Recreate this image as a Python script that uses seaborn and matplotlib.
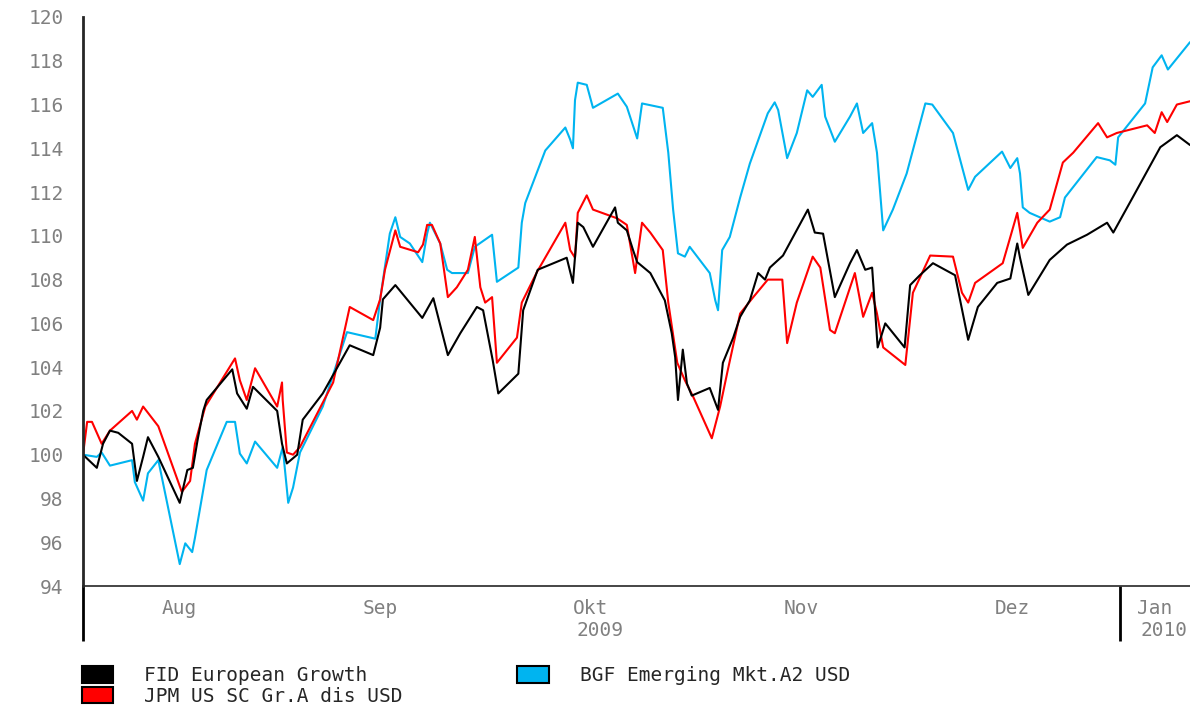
import pandas as pd
import matplotlib
matplotlib.use("Agg")
import matplotlib.pyplot as plt
from matplotlib.patches import Patch
import seaborn as sns

#%% -------------------------------------------------------------------------
# Data: fund prices indexed to 100
# x values are days since 2009-08-04
#----------------------------------------------------------------------------

START = pd.Timestamp("2009-08-04")
END_DAY = 160.2

fid_day = [0.0, 2.0, 2.9, 3.9, 5.1, 7.1, 7.8, 8.7, 9.4, 10.9, 14.0, 15.1, 15.9,
           16.6, 17.4, 17.9, 21.6, 22.3, 23.7, 24.6, 28.1, 28.8, 29.5, 31.0,
           31.8, 34.7, 38.6, 42.0, 43.0, 43.4, 45.2, 49.1, 50.7, 52.8, 54.6,
           57.0, 57.9, 59.3, 60.1, 63.0, 63.7, 65.8, 70.0, 70.9, 71.6, 72.4,
           73.8, 77.0, 77.4, 78.7, 79.6, 80.2, 82.1, 84.2, 85.2, 85.7, 86.1,
           86.8, 87.4, 88.1, 90.7, 91.9, 92.6, 94.1, 95.1, 96.5, 97.7, 98.7,
           99.4, 101.3, 104.9, 105.9, 107.1, 108.8, 111.0, 112.0, 113.2, 114.2,
           115.0, 116.1, 118.9, 119.7, 121.1, 123.0, 126.2, 128.1, 129.5,
           132.3, 134.2, 135.2, 135.6, 136.8, 139.9, 142.4, 145.3, 148.2,
           149.1, 151.9, 155.9, 158.3, 160.2]
fid_val = [100.0, 99.4, 100.5, 101.1, 101.0, 100.5, 98.8, 99.9, 100.8, 99.9,
           97.8, 99.3, 99.4, 100.7, 102.0, 102.5, 103.9, 102.8, 102.1, 103.1,
           102.0, 100.5, 99.6, 100.0, 101.6, 102.8, 105.0, 104.55, 105.8,
           107.1, 107.75, 106.25, 107.15, 104.55, 105.55, 106.75, 106.6, 104.3,
           102.8, 103.7, 106.6, 108.45, 109.0, 107.85, 110.6, 110.4, 109.5,
           111.3, 110.6, 110.25, 109.35, 108.8, 108.3, 107.05, 105.55, 104.45,
           102.5, 104.8, 103.25, 102.7, 103.05, 102.05, 104.2, 105.35, 106.3,
           107.05, 108.3, 108.0, 108.55, 109.1, 111.2, 110.15, 110.1, 107.2,
           108.75, 109.35, 108.45, 108.55, 104.9, 106.0, 104.9, 107.75, 108.2,
           108.75, 108.2, 105.25, 106.75, 107.85, 108.05, 109.65, 109.0, 107.3,
           108.9, 109.6, 110.05, 110.6, 110.15, 111.75, 114.05, 114.6, 114.15]

jpm_day = [0.0, 0.6, 1.3, 2.7, 3.9, 7.1, 7.8, 8.7, 10.9, 14.3, 15.5, 16.2, 16.9,
           17.7, 22.0, 22.7, 23.7, 24.9, 28.1, 28.8, 28.9, 29.5, 30.4, 31.4,
           36.2, 38.6, 42.0, 43.0, 43.7, 45.2, 45.9, 48.5, 49.2, 49.8, 50.5,
           51.7, 52.8, 54.1, 55.7, 56.7, 57.5, 58.2, 59.2, 59.9, 62.8, 63.5,
           65.7, 69.8, 70.5, 71.2, 71.6, 72.9, 73.8, 77.3, 78.7, 79.9, 80.9,
           82.1, 83.9, 84.7, 86.0, 87.1, 88.3, 91.0, 92.2, 93.3, 95.1, 97.0,
           99.1, 101.2, 101.9, 103.3, 105.6, 106.7, 108.1, 108.8, 111.7, 112.9,
           114.2, 114.9, 115.8, 119.0, 120.1, 122.6, 125.9, 127.2, 128.1,
           129.1, 133.1, 134.2, 135.2, 136.0, 138.1, 139.9, 141.8, 143.3,
           146.9, 148.2, 149.6, 154.0, 155.1, 156.1, 156.9, 158.3, 160.2]
jpm_val = [100.0, 101.5, 101.5, 100.5, 101.1, 102.0, 101.6, 102.2, 101.3, 98.3,
           98.8, 100.5, 101.3, 102.2, 104.4, 103.4, 102.5, 103.95, 102.2,
           103.3, 102.5, 100.1, 100.0, 100.35, 103.3, 106.75, 106.15, 107.1,
           108.45, 110.25, 109.5, 109.25, 109.6, 110.5, 110.5, 109.65, 107.2,
           107.65, 108.45, 109.95, 107.65, 106.95, 107.2, 104.2, 105.35,
           106.95, 108.35, 110.6, 109.35, 109.0, 111.05, 111.85, 111.2, 110.8,
           110.5, 108.3, 110.6, 110.15, 109.35, 106.95, 104.2, 103.4, 102.65,
           100.75, 102.2, 103.85, 106.45, 107.2, 108.0, 108.0, 105.1, 106.95,
           109.05, 108.55, 105.7, 105.55, 108.3, 106.3, 107.4, 106.45, 104.9,
           104.1, 107.4, 109.1, 109.05, 107.4, 106.95, 107.85, 108.75, 109.95,
           111.05, 109.45, 110.6, 111.2, 113.35, 113.8, 115.15, 114.5, 114.7,
           115.05, 114.7, 115.65, 115.2, 116.0, 116.15]

bgf_day = [0.0, 2.0, 2.7, 3.9, 7.1, 7.5, 8.7, 9.4, 10.9, 14.0, 14.8, 15.8, 16.2,
           17.9, 20.8, 22.0, 22.7, 23.7, 24.9, 28.1, 28.9, 29.7, 30.4, 31.4,
           34.7, 38.2, 42.3, 43.0, 44.4, 45.2, 45.9, 47.3, 49.1, 49.8, 50.2,
           51.7, 52.7, 53.4, 55.7, 56.7, 59.2, 59.9, 63.0, 63.5, 64.0, 66.9,
           69.8, 70.5, 70.9, 71.2, 71.6, 72.9, 73.8, 77.4, 78.7, 80.2, 80.9,
           83.9, 84.7, 85.4, 86.1, 87.1, 87.8, 90.7, 91.5, 91.9, 92.5, 93.6,
           95.1, 96.5, 99.1, 100.1, 100.6, 101.9, 103.3, 104.8, 105.6, 106.9,
           107.4, 108.8, 111.0, 112.0, 112.9, 114.2, 114.9, 115.8, 117.2,
           119.2, 121.9, 122.9, 125.9, 128.1, 129.1, 133.0, 134.2, 135.2,
           135.6, 136.0, 137.0, 139.9, 141.4, 142.1, 146.7, 148.6, 149.4,
           149.8, 153.7, 154.8, 156.1, 157.0, 160.2]
bgf_val = [100.0, 99.9, 100.1, 99.5, 99.75, 98.75, 97.9, 99.15, 99.75, 95.0,
           95.95, 95.55, 96.2, 99.3, 101.5, 101.5, 100.05, 99.6, 100.6, 99.4,
           100.35, 97.8, 98.5, 100.1, 102.2, 105.6, 105.3, 107.1, 110.1,
           110.85, 109.95, 109.65, 108.8, 110.1, 110.6, 109.65, 108.45, 108.3,
           108.3, 109.5, 110.05, 107.9, 108.55, 110.6, 111.5, 113.9, 114.95,
           114.4, 114.0, 116.2, 117.0, 116.9, 115.85, 116.5, 115.9, 114.45,
           116.05, 115.85, 113.8, 111.2, 109.2, 109.05, 109.5, 108.3, 107.05,
           106.6, 109.35, 109.95, 111.75, 113.3, 115.6, 116.1, 115.75, 113.55,
           114.7, 116.65, 116.35, 116.9, 115.45, 114.3, 115.45, 116.05, 114.7,
           115.15, 113.8, 110.25, 111.2, 112.85, 116.05, 116.0, 114.7, 112.1,
           112.7, 113.85, 113.1, 113.55, 112.85, 111.3, 111.05, 110.65, 110.85,
           111.75, 113.6, 113.45, 113.25, 114.5, 116.05, 117.7, 118.25, 117.6,
           118.85]

fid_name = "FID European Growth"
jpm_name = "JPM US SC Gr.A dis USD"
bgf_name = "BGF Emerging Mkt.A2 USD"

fund_colors = {fid_name: "#000000", jpm_name: "#FF0000", bgf_name: "#00B4F0"}

month_names = ["Aug", "Sep", "Okt", "Nov", "Dez", "Jan"]
month_starts = ["2009-08-01", "2009-09-01", "2009-10-01", "2009-11-01",
                "2009-12-01", "2010-01-01"]
year_labels = {"Okt": "2009", "Jan": "2010"}

#%% -------------------------------------------------------------------------
# Long-form table for seaborn
#----------------------------------------------------------------------------

frames = []
for name, days, vals in [(bgf_name, bgf_day, bgf_val),
                         (jpm_name, jpm_day, jpm_val),
                         (fid_name, fid_day, fid_val)]:
    frames.append(pd.DataFrame({
        "date": START + pd.to_timedelta(days, unit="D"),
        "value": vals,
        "fund": name,
    }))
df = pd.concat(frames, ignore_index=True)

#%% -------------------------------------------------------------------------
# Plot
#----------------------------------------------------------------------------

sns.set_style("white")
plt.rcParams["font.family"] = ["DejaVu Sans Mono", "DejaVu Sans"]
FS = 14
GRAY = "#808080"

fig = plt.figure(figsize=(11.9, 7.06), dpi=100)
ax = fig.add_axes([83 / 1190, 120 / 706, 1107 / 1190, 569 / 706])

sns.lineplot(data=df, x="date", y="value", hue="fund",
             hue_order=[bgf_name, jpm_name, fid_name], palette=fund_colors,
             sort=False, estimator=None, linewidth=1.5, legend=False, ax=ax)

end_date = START + pd.Timedelta(days=END_DAY)
ax.set_xlim(START, end_date)
ax.set_ylim(94, 120)
ax.set_xlabel("")
ax.set_ylabel("")

# y axis: even labels, odd minor ticks
ax.set_yticks(range(94, 121, 2))
ax.set_yticks(range(95, 120, 2), minor=True)
ax.tick_params(axis="y", which="both", direction="out", length=6, width=1.3,
               color="black", labelcolor=GRAY, labelsize=FS, pad=8)

# x axis: ticks at month starts, labels centred in each visible month
starts = [pd.Timestamp(s) for s in month_starts]
ax.set_xticks(starts[1:5])
ax.tick_params(axis="x", which="major", direction="out", length=7, width=1.6,
               color="black", labelbottom=False)
edges = [START] + starts[1:] + [end_date]
centers = [edges[i] + (edges[i + 1] - edges[i]) / 2 for i in range(len(month_names))]
ax.set_xticks(centers, minor=True)
ax.set_xticklabels(month_names, minor=True)
ax.tick_params(axis="x", which="minor", length=0, labelcolor=GRAY,
               labelsize=FS, pad=9)

for c, m in zip(centers, month_names):
    if m in year_labels:
        ax.text(c + pd.Timedelta(days=1.3), -0.078, year_labels[m],
                transform=ax.get_xaxis_transform(), ha="center", va="center",
                color=GRAY, fontsize=FS)

for side in ["top", "right"]:
    ax.spines[side].set_visible(False)
ax.spines["left"].set_linewidth(2)
ax.spines["bottom"].set_linewidth(1.2)

# left spine and the year break reach down past the axis
ax.plot([0, 0], [0, -0.097], color="black", lw=2, clip_on=False,
        transform=ax.transAxes, solid_capstyle="butt")
ax.plot([starts[5], starts[5]], [0, -0.097], color="black", lw=2,
        clip_on=False, transform=ax.get_xaxis_transform(),
        solid_capstyle="butt")

# Legend below the chart
handles = [Patch(facecolor=fund_colors[n], edgecolor="black", lw=1.5, label=n)
           for n in [fid_name, jpm_name, bgf_name]]
fig.legend(handles=handles, ncol=2, loc="upper left",
           bbox_to_anchor=(82 / 1190, 1 - 666 / 706), frameon=False,
           fontsize=FS, handlelength=1.6, handleheight=0.95,
           handletextpad=1.6, columnspacing=5.9, labelspacing=0.08,
           borderpad=0, borderaxespad=0)

fig.savefig("out.png", dpi=100, facecolor="white")
